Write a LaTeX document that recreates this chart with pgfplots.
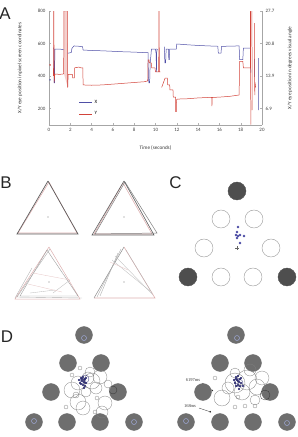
\documentclass[border=0pt]{standalone}
\usepackage{pgfplots}
\pgfplotsset{compat=1.18}
\usepackage{fontspec}
\setmainfont{Carlito}
\newfontfamily\panelfont{Liberation Sans}
\newfontfamily\notefont{Liberation Serif}
\usetikzlibrary{arrows.meta}

\definecolor{xblue}{HTML}{4F4FA6}
\definecolor{yred}{HTML}{D2433A}
\definecolor{darkdisc}{HTML}{4E4E4E}
\definecolor{disc}{HTML}{6E6E6E}
\definecolor{ringgray}{HTML}{A5A5A5}
\definecolor{navy}{HTML}{2B2B70}
\definecolor{lightblue}{HTML}{9FA9D8}
\definecolor{trigray}{HTML}{5E5E5E}
\definecolor{tripink}{HTML}{DDB0B0}

\pgfplotsset{
  ring/.style={scatter, only marks, mark=o,
    scatter/use mapped color={draw=#1, fill=none},
    mark options={line width=0.3pt},
    visualization depends on={\thisrow{r}\as\ringr},
    scatter/@pre marker code/.append style={/tikz/mark size=\ringr}},
}

\begin{document}
\begin{tikzpicture}
\useasboundingbox (0,0) rectangle (298bp,-437bp);

% ---------- A: eye position over time ----------
\begin{axis}[
  at={(49bp,-11bp)}, anchor=north west,
  scale only axis, width=213bp, height=113.75bp,
  xmin=0, xmax=20, ymin=100, ymax=800,
  axis x line*=bottom, axis y line*=left,
  axis line style={draw=black!35, line width=0.4pt},
  xtick={0,2,...,20}, ytick={200,400,600,800},
  tick style={draw=black!30, line width=0.3pt},
  major tick length=2bp, tick align=inside,
  tick label style={font=\fontsize{5}{6}\selectfont, text=black!75},
  /pgf/number format/assume math mode=true,
  xlabel={Time (seconds)},
  ylabel={X/Y eye position in pixel screen coordinates},
  label style={font=\fontsize{5.2}{6}\selectfont, text=black!80},
  xlabel style={at={(axis description cs:0.5,-0.2)}, anchor=center},
  ylabel style={at={(axis description cs:-0.136,0.5)}, anchor=center},
  unbounded coords=jump,
  legend style={at={(axis description cs:0.14,0.145)}, anchor=west,
    draw=none, fill=none, font=\fontsize{5}{6}\selectfont,
    row sep=2.5bp, inner sep=0pt, cells={anchor=west}},
  legend image code/.code={\draw[#1] (0bp,0bp) -- (13bp,0bp);},
]
\addlegendimage{xblue, line width=0.6pt}\addlegendentry{X}
\addlegendimage{yred, line width=0.6pt}\addlegendentry{Y}

% stray samples before the trial
\addplot[forget plot, only marks, mark=*, mark size=0.5pt, xblue] coordinates {(0.1,376)};
\addplot[forget plot, only marks, mark=*, mark size=0.5pt, yred] coordinates {(0.1,468)};

% blinks / signal loss
\addplot[forget plot, fill=yred!25, draw=yred, line width=0.5pt] coordinates
  {(1.38,420) (1.40,800) (1.72,800) (1.76,330)};

% X trace
\addplot[forget plot, xblue, line width=0.5pt] coordinates {
(0.42,575)(0.45,565)(0.48,357)(0.52,357)(0.55,566)(1.0,566)(1.33,562)(1.36,560)
(1.37,nan)
(1.78,540)(2.1,545)(2.15,570)(2.35,585)(2.8,583)(3.15,580)(3.2,560)(4,557)(5,555)
(6,552)(7,549)(8,547)(9,544)(9.3,544)(9.33,400)(9.38,357)(9.45,357)(9.5,480)
(9.56,520)(9.62,566)(10.0,566)(10.05,540)(10.1,425)(10.12,566)(10.2,560)
(10.3,nan)
(10.83,580)(10.88,480)(10.95,480)(11.0,566)(11.22,566)(11.25,500)(11.3,500)
(11.33,566)(11.95,566)(12.0,597)(13,592)(14,588)(15,585)(15.85,583)(15.9,540)
(16.15,540)(16.2,582)(17,584)(17.85,585)(17.9,500)(18.2,500)(18.25,572)(18.9,572)
(18.95,420)
(19.0,nan)
(19.3,505)(19.31,395)
(19.4,nan)
(19.65,510)(19.66,190)
};

% Y trace
\addplot[forget plot, yred, line width=0.5pt] coordinates {
(0.42,400)(0.44,800)(0.46,800)(0.48,360)(0.55,412)(1.0,410)(1.33,412)(1.38,420)
(1.5,nan)
(1.76,330)(1.8,410)(2.2,410)(2.22,388)(2.38,388)(2.4,450)(2.8,455)(3.0,450)
(3.18,450)(3.2,345)(4,343)(5,345)(6,350)(7,355)(8,360)(9,365)(9.27,370)(9.3,499)
(9.4,499)(9.42,480)(9.6,480)(9.64,450)(9.95,450)(10.0,425)(10.3,425)(10.32,800)
(10.34,800)(10.36,425)(10.45,425)
(10.5,nan)
(10.58,330)(10.75,360)(10.9,387)(11.12,387)(11.15,345)(11.33,345)(11.36,314)
(11.64,314)(11.67,270)(11.88,270)(11.9,180)(11.95,180)(11.98,255)(12.08,258)
(13,260)(14,265)(15,268)(15.28,268)(15.3,215)(15.33,268)(16,270)(17,275)
(17.85,283)(17.9,490)(18.2,490)(18.25,450)(18.9,450)(18.92,800)(18.95,100)
(19.0,nan)
(19.05,800)(19.08,190)
(19.2,nan)
(19.3,725)(19.32,283)(19.35,360)(19.4,330)
};
\end{axis}

% right-hand scale in degrees of visual angle
\begin{axis}[
  at={(49bp,-11bp)}, anchor=north west,
  scale only axis, width=213bp, height=113.75bp,
  xmin=0, xmax=20, ymin=100, ymax=800,
  axis y line*=right, axis x line=none,
  axis line style={draw=black!35, line width=0.4pt},
  ytick={200,400,600,800}, yticklabels={6.9,13.9,20.8,27.7},
  tick style={draw=black!30, line width=0.3pt},
  major tick length=2bp, tick align=inside,
  tick label style={font=\fontsize{5}{6}\selectfont, text=black!75},
  ylabel={X/Y eye position in degrees visual angle},
  label style={font=\fontsize{5.2}{6}\selectfont, text=black!80},
  ylabel style={at={(axis description cs:1.131,0.5)}, anchor=center, rotate=0},
]
\end{axis}

% ---------- B, C, D: drawings in page units ----------
\begin{axis}[
  at={(0bp,0bp)}, anchor=north west,
  scale only axis, width=298bp, height=437bp,
  xmin=0, xmax=298, ymin=0, ymax=437, y dir=reverse,
  hide axis, clip=false,
]
% panel letters
\node[font=\panelfont\fontsize{17}{17}\selectfont, text=black!85] at (axis cs:5,13.5) {A};
\node[font=\panelfont\fontsize{17}{17}\selectfont, text=black!85] at (axis cs:6,183) {B};
\node[font=\panelfont\fontsize{17}{17}\selectfont, text=black!85] at (axis cs:175.5,183) {C};
\node[font=\panelfont\fontsize{17}{17}\selectfont, text=black!85] at (axis cs:7,337) {D};

% B: copied triangles
\addplot[tripink, line width=0.6pt] coordinates {(49,182)(18,233)(77,233)(49,182)};
\addplot[trigray, line width=0.7pt] coordinates {(48,181)(17,234)(78,234)(48,181)};
\addplot[tripink, line width=0.6pt] coordinates {(123,183)(94,234)(152,234)(123,183)};
\addplot[trigray!80, line width=0.5pt] coordinates {(125,182)(95,234)(157,233)(125,182)};
\addplot[trigray, line width=0.6pt] coordinates {(124,181)(92,235)(154,235)(124,181)};
\addplot[only marks, mark=*, mark size=0.4pt, black!40] coordinates {(48,217)(124,217)(49,282)(124,282)};

\addplot[tripink, line width=0.5pt] coordinates {(49,247)(15,299)(80,299)(49,247)};
\addplot[trigray!60, line width=0.4pt] coordinates {(47,250)(20,296)(78,296)(47,250)};
\addplot[trigray!50, line width=0.4pt] coordinates {(50,249)(17,297)(82,298)};
\addplot[trigray!50, line width=0.35pt] coordinates {(32,268)(15,298)};
\addplot[trigray!40, line width=0.35pt] coordinates {(30,293)(55,290)};
\addplot[trigray!40, line width=0.35pt] coordinates {(53,293)(70,280)};
\addplot[tripink!70, line width=0.35pt] coordinates {(33,273)(70,280)};
\addplot[tripink!70, line width=0.35pt] coordinates {(28,284)(62,292)};

\addplot[tripink, line width=0.6pt] coordinates {(94,298)(155,298)(124,247)};
\addplot[trigray!70, line width=0.5pt] coordinates {(124,247)(94,298)};
\addplot[trigray!55, line width=0.4pt] coordinates {(121,249)(97,297)};
\addplot[trigray!50, line width=0.4pt] coordinates {(118,253)(100,296)};
\addplot[trigray!45, line width=0.35pt] coordinates {(126,250)(152,293)};
\addplot[trigray!40, line width=0.35pt] coordinates {(112,260)(150,291)};
\addplot[trigray!40, line width=0.35pt] coordinates {(115,256)(153,295)};
\addplot[tripink!70, line width=0.35pt] coordinates {(110,262)(128,270)};

% C: target layout with fixations
\addplot[only marks, mark=*, mark size=9pt, mark options={fill=darkdisc, draw=darkdisc}]
  coordinates {(237,191)(188,277)(287,277)};
\addplot[only marks, mark=o, mark size=9pt, mark options={draw=ringgray, line width=0.5pt}]
  coordinates {(221,219)(254,219)(204,248)(271,248)(221,277)(253,277)};
\addplot[only marks, mark=*, mark size=1pt, mark options={fill=xblue, draw=xblue}]
  coordinates {(238,227)(237,232)(236,235)(238,236)(240,235)(244,236)(240,243)(237,238)};
\addplot[only marks, mark=+, mark size=1.8pt, mark options={draw=black!60, line width=0.5pt}]
  coordinates {(237,248)};

% D: fixation maps
\addplot[only marks, mark=*, mark size=8.5pt, mark options={fill=disc, draw=disc}]
  coordinates {(84,335)(68,363)(101,363)(51,392)(118,392)(34,422)(67,422)(100,422)(134,422)
               (236,335)(220,363)(253,363)(203,392)(270,392)(186,422)(220,422)(253,422)(287,422)};
\addplot[only marks, mark=o, mark size=2.5pt, mark options={draw=lightblue, line width=0.5pt}]
  coordinates {(84,338)(34,421)(134,422)(237,338)(186,421)(287,423)};

\addplot[ring=black!50] table {
x y r
100 377 7
92 381 8
88 378 6
78 383 7
72 390 8
78 402 8
83 408 7
105 403 7
102 412 6
90 372 5
96 388 6
86 392 5
76 395 3
108 384 4
80 368 2
66 407 2
97 398 2
95 412 2
72 375 2
235 383 10
247 380 10
257 387 8
242 392 8
222 398 8
250 370 6
235 373 5
228 388 6
255 400 5
262 378 7
235 407 2
245 406 2
255 406 2
238 397 2
215 378 2
};
\addplot[ring=black!80] table {
x y r
113 390 4
265 395 5
};
\addplot[ring=navy] table {
x y r
83 381 3
85 379 4
237 381 3
239 383 4
};
\addplot[only marks, mark=*, mark size=0.9pt, mark options={fill=navy, draw=navy}] coordinates {
(81,378)(83,377)(85,379)(82,381)(84,382)(86,383)(80,383)(83,385)(85,386)(82,379)
(84,380)(81,384)(86,378)(79,380)(84,388)
(236,377)(238,376)(240,379)(237,380)(239,382)(241,383)(235,383)(238,385)(240,386)
(236,379)(238,381)(236,386)(241,378)(234,380)(239,389)(243,386)
};

% duration annotations
\node[font=\notefont\fontsize{4.5}{5}\selectfont, text=black!80] at (axis cs:193,380) {6197ms};
\node[font=\notefont\fontsize{4.5}{5}\selectfont, text=black!80] at (axis cs:190,406) {168ms};
\addplot[black!80, line width=0.3pt, -{Circle[length=1.6bp]}] coordinates {(202,383)(213,391)};
\addplot[black!80, line width=0.3pt, -{Circle[length=1.6bp]}] coordinates {(199,408)(211,412)};
\end{axis}
\end{tikzpicture}
\end{document}
